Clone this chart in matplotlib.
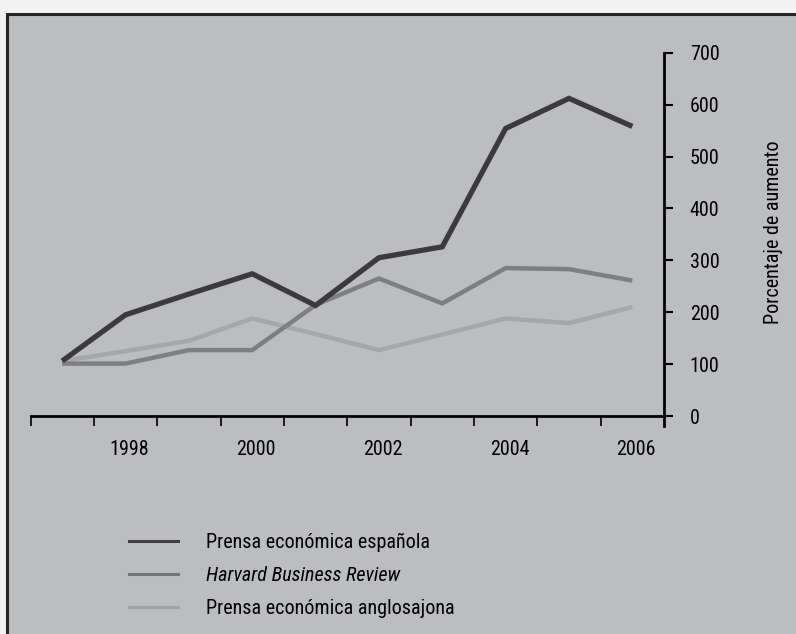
import matplotlib
matplotlib.use("Agg")
import matplotlib.pyplot as plt
from matplotlib.patches import Rectangle
from matplotlib.lines import Line2D
from matplotlib.transforms import ScaledTranslation
from matplotlib import font_manager

names = {f.name for f in font_manager.fontManager.ttflist}
FAM = [n for n in ['Roboto Condensed', 'Liberation Sans', 'DejaVu Sans'] if n in names] or ['DejaVu Sans']
plt.rcParams['font.family'] = FAM

years = [1997, 1998, 1999, 2000, 2001, 2002, 2003, 2004, 2005, 2006]
espanola = [106, 195, 235, 274, 213, 305, 326, 554, 612, 558]
hbr = [101, 101, 127, 127, 214, 265, 217, 285, 283, 261]
anglo = [106, 125, 145, 188, 158, 127, 157, 188, 179, 210]
series_labels = ["Prensa económica española", "Harvard Business Review",
                 "Prensa económica anglosajona"]
year_ticks = [1998, 2000, 2002, 2004, 2006]
y_ticks = [0, 100, 200, 300, 400, 500, 600, 700]
ylabel = "Porcentaje de aumento"

W, H = 796, 634
FS = 14.5
fig = plt.figure(figsize=(W / 100, H / 100), dpi=100)
fig.patch.set_facecolor('#f2f2f2')

fig.patches.append(Rectangle((7.5 / W, -0.05), 1.2, 1.05 - 13.5 / H,
                             transform=fig.transFigure, facecolor='#bcbdc1',
                             edgecolor='#262626', linewidth=2.2, zorder=0))

ax = fig.add_axes([30.5 / W, 1 - 426.4 / H, (664 - 30.5) / W, (426.4 - 52.7) / H])
ax.set_zorder(2)
ax.set_facecolor('none')
ax.set_xlim(1996.5, 2006.5)
ax.set_ylim(-20, 700)

c_dark, c_mid, c_light = '#3b3b3b', '#7e7f82', '#a6a7aa'
kw = dict(solid_joinstyle='miter', solid_capstyle='butt')
ax.plot(years, anglo, color=c_light, lw=3.2, **kw)
ax.plot(years, hbr, color=c_mid, lw=3.2, **kw)
ax.plot(years, espanola, color=c_dark, lw=3.8, **kw)

for s in ['left', 'top']:
    ax.spines[s].set_visible(False)
ax.spines['bottom'].set_position(('data', 0))
ax.spines['bottom'].set_linewidth(2.0)
ax.spines['right'].set_linewidth(2.0)

ax.set_xticks(year_ticks)
ax.set_xticklabels([str(y) for y in year_ticks])
ax.set_xticks([y + 0.5 for y in range(1996, 2006)], minor=True)
ax.tick_params(axis='x', which='major', length=0, pad=17, labelsize=FS)
ax.tick_params(axis='x', which='minor', length=7.5, width=1.2, direction='out')
shift = ScaledTranslation(4 / 100, 0, fig.dpi_scale_trans)
for lab in ax.get_xticklabels():
    lab.set_transform(lab.get_transform() + shift)

ax.yaxis.tick_right()
ax.yaxis.set_label_position('right')
ax.set_yticks(y_ticks)
ax.tick_params(axis='y', which='major', length=6.5, width=1.5, direction='out',
               pad=12, labelsize=FS, right=True, left=False)
ax.set_ylabel(ylabel, fontsize=FS, labelpad=32)
ax.yaxis.label.set_y((426.4 - 232) / (426.4 - 52.7))

handles = [Line2D([], [], color='#3f3f3f', lw=2.2),
           Line2D([], [], color='#777777', lw=2.2),
           Line2D([], [], color='#a3a3a3', lw=2.2)]
leg = fig.legend(handles, series_labels, loc='upper left',
                 bbox_to_anchor=(129 / W, 1 - 533 / H), frameon=False,
                 fontsize=FS, borderpad=0, borderaxespad=0, handlelength=2.45,
                 handletextpad=1.35, labelspacing=0.68)
leg.get_texts()[1].set_style('italic')

fig.savefig('out.png', dpi=100, facecolor=fig.get_facecolor())
